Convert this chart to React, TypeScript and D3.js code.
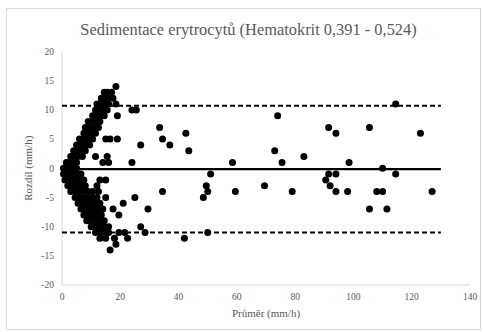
import React from "react";
import * as d3 from "d3";

const title = "Sedimentace erytrocytů (Hematokrit 0,391 - 0,524)";
const xLabel = "Průměr (mm/h)";
const yLabel = "Rozdíl (mm/h)";
const xTicks = [0, 20, 40, 60, 80, 100, 120, 140];
const yTicks = [-20, -15, -10, -5, 0, 5, 10, 15, 20];

const meanDiff = -0.15;
const upperLimit = 10.7;
const lowerLimit = -11.0;
const lineExtent = [0, 130];

// dense cluster: [difference, means...]
const clusterRows: [number, number[]][] = [
  [14, [18.5]],
  [13, [14.5, 15.5, 17]],
  [12, [13.5, 14.5, 16, 17.5]],
  [11, [12, 13, 14.5, 16, 18.5]],
  [10, [11.5, 12.5, 14, 15.5]],
  [9, [10.5, 12, 13, 14.5, 19]],
  [8, [9, 10.5, 12, 13]],
  [7, [8, 9.5, 11, 12.5]],
  [6, [7.5, 9, 10.5, 11.5]],
  [5, [6, 7.5, 9, 10.5, 15, 16.5, 19]],
  [4, [5, 6.5, 8, 9.5]],
  [3, [4, 5, 6.5, 8]],
  [2, [3, 4, 5.5, 7, 11.5, 15.5]],
  [1, [1.5, 2.5, 3.5, 5, 14, 16]],
  [0, [0.5, 1, 2, 3, 4, 5]],
  [-1, [0.5, 1.5, 2.5, 3.5, 5, 6.5]],
  [-2, [1, 2, 3, 4.5, 6, 7.5, 13, 15]],
  [-3, [2, 3.5, 5, 6.5, 8, 12]],
  [-4, [3, 4.5, 6, 7.5, 9, 10.5, 12.5]],
  [-5, [4.5, 6, 7.5, 9, 10.5, 12, 15]],
  [-6, [5.5, 7, 8.5, 10, 11.5, 13, 21]],
  [-7, [6.5, 8, 9.5, 11, 12.5, 14, 17.5]],
  [-8, [7.5, 9, 10.5, 12, 13.5, 19.5]],
  [-9, [8.5, 10, 11.5, 13, 14.5]],
  [-10, [10, 11.5, 13, 14.5, 16]],
  [-11, [11.5, 13, 14.5, 16, 19.5, 21.5]],
  [-12, [13, 15, 18, 22.5]],
  [-13, [18.5]],
  [-14, [16.5]],
];

// scattered points: [mean, difference]
const scatteredPoints: [number, number][] = [
  [24, 10], [25.5, 10], [27, 4], [24, 1], [25, -5], [29.5, -7], [27, -10], [28.5, -11],
  [33.5, 7], [42.5, 6], [34.5, 5], [37, 4], [43.5, 3], [34.5, -4], [42, -12],
  [51, -1], [49.5, -3], [50, -4], [48.5, -5], [50, -11],
  [58.5, 1], [59.5, -4], [69.5, -3], [73, 3], [74, 9], [75.5, 1], [79, -4], [83, 2],
  [91.5, 7], [94, 6], [98.5, 1], [91.5, -1], [94, -1], [90.5, -2], [92, -3], [94, -4], [98, -4],
  [105.5, 7], [110, 0], [108, -4], [110, -4], [105.5, -7], [111.5, -7],
  [114.5, 11], [114.5, -1], [123, 6], [127, -4],
];

const W = 483;
const H = 332;
const FONT = "Liberation Serif";
const GRAY = "#595959";

export default function App() {
  const x = d3.scaleLinear().domain([0, 140]).range([62, 470]);
  const y = d3.scaleLinear().domain([-20, 20]).range([285, 51.5]);

  const points: [number, number][] = [
    ...clusterRows.flatMap(([d, ms]) => ms.map((m) => [m, d] as [number, number])),
    ...scatteredPoints,
  ];

  const txt = { fontFamily: FONT, fill: GRAY } as React.CSSProperties;

  return (
    <svg
      width={W}
      height={H}
      style={{ position: "absolute", left: 0, top: 0, background: "#fff" }}
    >
      <rect x={6.5} y={8.5} width={474} height={321} fill="#fff" stroke="#d9d9d9" strokeWidth={1} />
      <text x={248.5} y={35} textAnchor="middle" style={{ ...txt, fontSize: 16.4 }}>
        {title}
      </text>
      {/* axes */}
      <line x1={x(0)} x2={x(0)} y1={y(20)} y2={y(-20)} stroke="#d9d9d9" strokeWidth={1} />
      <line x1={x(0)} x2={x(140)} y1={y(-20)} y2={y(-20)} stroke="#d9d9d9" strokeWidth={1} />
      {yTicks.map((t) => (
        <text key={"y" + t} x={54} y={y(t) + 3.3} textAnchor="end" style={{ ...txt, fontSize: 9.5 }}>
          {t}
        </text>
      ))}
      {xTicks.map((t) => (
        <text key={"x" + t} x={x(t)} y={y(-20) + 15} textAnchor="middle" style={{ ...txt, fontSize: 9.5 }}>
          {t}
        </text>
      ))}
      <text x={266} y={317} textAnchor="middle" style={{ ...txt, fontSize: 11 }}>
        {xLabel}
      </text>
      <text
        transform={`translate(32,${y(0)}) rotate(-90)`}
        textAnchor="middle"
        style={{ ...txt, fontSize: 11 }}
      >
        {yLabel}
      </text>
      {/* limit lines */}
      <line x1={x(lineExtent[0])} x2={x(lineExtent[1])} y1={y(upperLimit)} y2={y(upperLimit)} stroke="#000" strokeWidth={2} strokeDasharray="5,3" />
      <line x1={x(lineExtent[0])} x2={x(lineExtent[1])} y1={y(lowerLimit)} y2={y(lowerLimit)} stroke="#000" strokeWidth={2} strokeDasharray="5,3" />
      {points.map(([m, d], i) => (
        <circle key={i} cx={x(m)} cy={y(d)} r={3.5} fill="#000" />
      ))}
      <line x1={x(lineExtent[0])} x2={x(lineExtent[1])} y1={y(meanDiff)} y2={y(meanDiff)} stroke="#000" strokeWidth={2.2} />
    </svg>
  );
}
